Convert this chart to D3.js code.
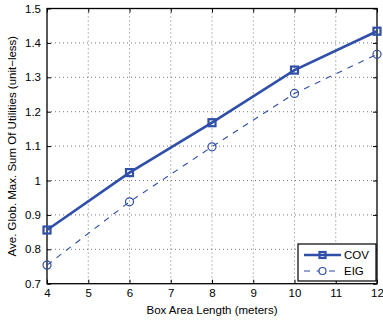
<!DOCTYPE html>
<html>
<head>
<meta charset="utf-8">
<script src="https://cdn.jsdelivr.net/npm/d3@7"></script>
<style>
  body { margin: 0; background: #fff; }
  text { font-family: "Liberation Sans", Arial, sans-serif; }
</style>
</head>
<body>
<svg id="chart" width="383" height="322"></svg>
<script>
  'use strict';

  // data
  var boxLengths = [4, 6, 8, 10, 12];
  var covValues = [0.856, 1.023, 1.168, 1.321, 1.434];
  var eigValues = [0.754, 0.938, 1.098, 1.253, 1.367];
  var xTicks = [4, 5, 6, 7, 8, 9, 10, 11, 12];
  var yTicks = [0.7, 0.8, 0.9, 1, 1.1, 1.2, 1.3, 1.4, 1.5];
  var seriesNames = ['COV', 'EIG'];

  (function() {
    var blue = '#2f4fa8';
    var pLeft = 47, pRight = 377, pTop = 8.5, pBottom = 283.7;

    var svg = d3.select('#chart');

    var x = d3.scaleLinear().domain([4, 12]).range([pLeft, pRight]);
    var y = d3.scaleLinear().domain([0.7, 1.5]).range([pBottom, pTop]);

    // dotted grid
    var grid = svg.append('g');
    grid.selectAll('.gx').data(xTicks.slice(1, -1)).enter().append('line')
      .attr('x1', function(d) { return x(d); }).attr('x2', function(d) { return x(d); })
      .attr('y1', pTop).attr('y2', pBottom)
      .attr('stroke', '#555').attr('stroke-width', 0.8).attr('stroke-dasharray', '1,3');
    grid.selectAll('.gy').data(yTicks.slice(1, -1)).enter().append('line')
      .attr('y1', function(d) { return y(d); }).attr('y2', function(d) { return y(d); })
      .attr('x1', pLeft).attr('x2', pRight)
      .attr('stroke', '#555').attr('stroke-width', 0.8).attr('stroke-dasharray', '1,3');

    // axes with inward ticks on all four sides
    var fmtY = function(d) { return d === 1 ? '1' : d3.format('.1f')(d); };
    svg.append('g').attr('transform', 'translate(0,' + pBottom + ')')
      .call(d3.axisBottom(x).tickValues(xTicks).tickSizeInner(-4).tickSizeOuter(0).tickPadding(5))
      .call(function(g) { g.select('.domain').remove(); });
    svg.append('g').attr('transform', 'translate(0,' + pTop + ')')
      .call(d3.axisTop(x).tickValues(xTicks).tickSizeInner(-4).tickSizeOuter(0).tickFormat(''))
      .call(function(g) { g.select('.domain').remove(); });
    svg.append('g').attr('transform', 'translate(' + pLeft + ',0)')
      .call(d3.axisLeft(y).tickValues(yTicks).tickFormat(fmtY).tickSizeInner(-4).tickSizeOuter(0).tickPadding(6))
      .call(function(g) { g.select('.domain').remove(); });
    svg.append('g').attr('transform', 'translate(' + pRight + ',0)')
      .call(d3.axisRight(y).tickValues(yTicks).tickSizeInner(-4).tickSizeOuter(0).tickFormat(''))
      .call(function(g) { g.select('.domain').remove(); });

    svg.selectAll('.tick text').attr('font-size', 11.5).attr('fill', '#000')
      .attr('font-family', '"Liberation Sans", Arial, sans-serif');
    svg.selectAll('.tick line').attr('stroke', '#000');

    svg.append('rect').attr('x', pLeft).attr('y', pTop)
      .attr('width', pRight - pLeft).attr('height', pBottom - pTop)
      .attr('fill', 'none').attr('stroke', '#000').attr('stroke-width', 1.3);

    // series
    var line = d3.line()
      .x(function(d, i) { return x(boxLengths[i]); })
      .y(function(d) { return y(d); });

    svg.append('path').datum(eigValues).attr('d', line)
      .attr('fill', 'none').attr('stroke', blue).attr('stroke-width', 1.1)
      .attr('stroke-dasharray', '6,6');
    svg.selectAll('.eig').data(eigValues).enter().append('circle')
      .attr('cx', function(d, i) { return x(boxLengths[i]); })
      .attr('cy', function(d) { return y(d); })
      .attr('r', 4).attr('fill', 'none').attr('stroke', blue).attr('stroke-width', 1.2);

    svg.append('path').datum(covValues).attr('d', line)
      .attr('fill', 'none').attr('stroke', blue).attr('stroke-width', 2.6);
    svg.selectAll('.cov').data(covValues).enter().append('rect')
      .attr('x', function(d, i) { return x(boxLengths[i]) - 3.5; })
      .attr('y', function(d) { return y(d) - 3.5; })
      .attr('width', 7).attr('height', 7)
      .attr('fill', 'none').attr('stroke', blue).attr('stroke-width', 2.2);

    // legend
    var lg = svg.append('g');
    lg.append('rect').attr('x', 298).attr('y', 244).attr('width', 78).attr('height', 37)
      .attr('fill', '#fff').attr('stroke', '#000').attr('stroke-width', 1.2);
    var rows = [
      { name: seriesNames[0], y: 255 },
      { name: seriesNames[1], y: 271 }
    ];
    lg.append('line').attr('x1', 304).attr('x2', 341).attr('y1', rows[0].y).attr('y2', rows[0].y)
      .attr('stroke', blue).attr('stroke-width', 2.6);
    lg.append('rect').attr('x', 319.5).attr('y', rows[0].y - 3).attr('width', 6).attr('height', 6)
      .attr('fill', 'none').attr('stroke', blue).attr('stroke-width', 2.2);
    lg.append('line').attr('x1', 304).attr('x2', 341).attr('y1', rows[1].y).attr('y2', rows[1].y)
      .attr('stroke', blue).attr('stroke-width', 1.1).attr('stroke-dasharray', '6,6.5');
    lg.append('circle').attr('cx', 322.5).attr('cy', rows[1].y).attr('r', 3.5)
      .attr('fill', '#fff').attr('stroke', blue).attr('stroke-width', 1.2);
    lg.selectAll('.lt').data(rows).enter().append('text')
      .attr('x', 344).attr('y', function(d) { return d.y + 4; })
      .attr('font-size', 11.5).text(function(d) { return d.name; });

    // axis titles
    svg.append('text').attr('x', (pLeft + pRight) / 2).attr('y', 314)
      .attr('text-anchor', 'middle').attr('font-size', 11.5)
      .text('Box Area Length (meters)');
    svg.append('text')
      .attr('transform', 'translate(16,' + ((pTop + pBottom) / 2) + ') rotate(-90)')
      .attr('text-anchor', 'middle').attr('font-size', 11.5)
      .text('Ave. Glob. Max. Sum Of Utilities (unit\u2212less)');
  })();
</script>
</body>
</html>
